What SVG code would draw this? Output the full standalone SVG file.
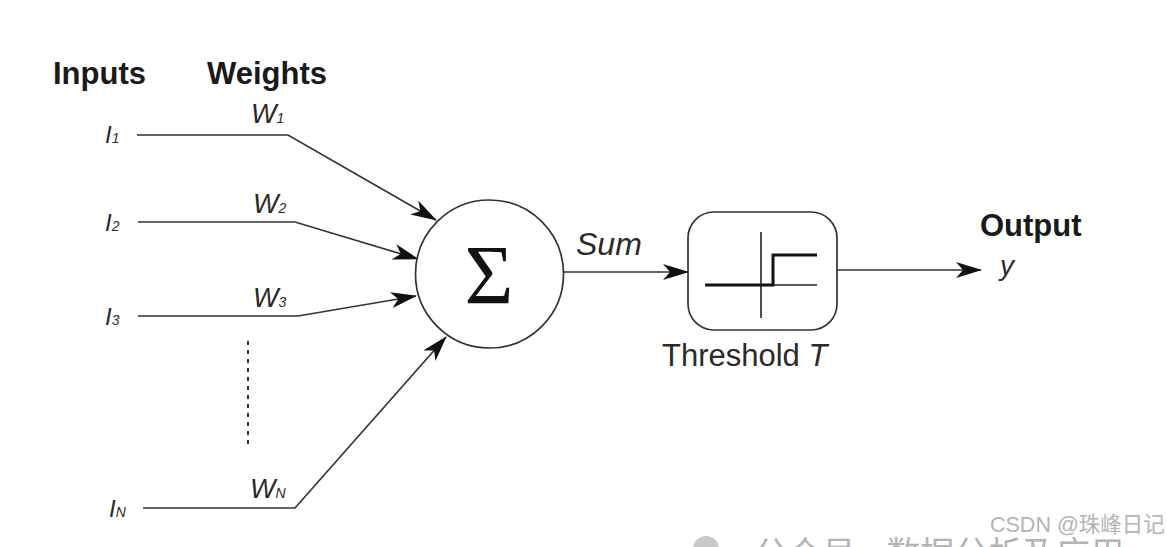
<svg xmlns="http://www.w3.org/2000/svg" width="1167" height="547" viewBox="0 0 1167 547">
<style>
.hd{font-family:"Liberation Sans",Arial,sans-serif;font-weight:bold;font-size:31px;fill:#1a1a1a}
.lab{font-family:"Liberation Sans",Arial,sans-serif;font-style:italic;fill:#2a2a2a}
.in{font-size:24px}
.w{font-size:27px}
.sub{font-size:14px}
.ln{fill:none;stroke:#333;stroke-width:1.7}
.ar{marker-end:url(#ah)}
.wm{font-family:"Liberation Sans","Noto Sans CJK SC",sans-serif;fill:#b4b4b4}
</style>
<defs>
<marker id="ah" viewBox="0 0 26 16" refX="25" refY="8" markerWidth="26" markerHeight="16" markerUnits="userSpaceOnUse" orient="auto">
<path d="M0,0 L26,8 L0,16 L7,8 Z" fill="#111"/>
</marker>
</defs>
<rect width="1167" height="547" fill="#fff"/>

<g id="headers">
<text class="hd" x="53" y="84">Inputs</text>
<text class="hd" x="207" y="84" font-size="31.5">Weights</text>
<text class="hd" x="980" y="236" font-size="30.5">Output</text>
</g>

<g id="input-labels">
<text class="lab in" x="105" y="143">I<tspan class="sub">1</tspan></text>
<text class="lab in" x="105" y="231">I<tspan class="sub">2</tspan></text>
<text class="lab in" x="105" y="325">I<tspan class="sub">3</tspan></text>
<text class="lab in" x="109" y="517">I<tspan class="sub">N</tspan></text>
</g>

<g id="weight-labels">
<text class="lab w" x="251" y="123">W<tspan class="sub">1</tspan></text>
<text class="lab w" x="253" y="213">W<tspan class="sub">2</tspan></text>
<text class="lab w" x="253" y="307">W<tspan class="sub">3</tspan></text>
<text class="lab w" x="250" y="498">W<tspan class="sub">N</tspan></text>
</g>

<g id="connectors">
<polyline class="ln ar" points="137,135 288,135 436,220"/>
<polyline class="ln ar" points="138,222 295,222 418,259"/>
<polyline class="ln ar" points="138,316 298,316 416,296"/>
<polyline class="ln ar" points="143,508 295,508 446,337"/>
<line x1="248" y1="341" x2="248" y2="448" stroke="#333" stroke-width="2" stroke-dasharray="4,5"/>
<line class="ln ar" x1="564" y1="272" x2="688" y2="272"/>
<line class="ln ar" x1="837" y1="270" x2="981" y2="270"/>
</g>

<g id="sum-node">
<circle cx="489.5" cy="274" r="74" fill="#fff" stroke="#333" stroke-width="1.7"/>
<text x="489" y="304" text-anchor="middle" font-family="'Liberation Serif','Times New Roman',serif" font-size="84" fill="#111">Σ</text>
</g>
<text class="lab" x="576" y="255" font-size="32">Sum</text>

<g id="threshold-node">
<rect x="688" y="212" width="149" height="118" rx="26" ry="26" fill="#fff" stroke="#333" stroke-width="1.7"/>
<line x1="761" y1="232" x2="761" y2="318" stroke="#222" stroke-width="1.6"/>
<line x1="773" y1="285" x2="817" y2="285" stroke="#222" stroke-width="1.6"/>
<polyline points="705,285 773,285 773,255 817,255" fill="none" stroke="#111" stroke-width="3"/>
<text x="662" y="366" font-family="'Liberation Sans',Arial,sans-serif" font-size="31" fill="#2a2a2a">Threshold <tspan font-style="italic">T</tspan></text>
</g>

<g id="output-label">
<text class="lab" x="1000" y="275" font-size="28">y</text>
</g>

<g id="watermarks">
<text class="wm" x="990" y="532" font-size="21.5">CSDN @珠峰日记</text>
<circle cx="706" cy="549" r="13" fill="#c8c8c8"/>
<text class="wm" x="754" y="566" font-size="34" fill="#c8c8c8">公众号 · 数据分析及应用</text>
</g>
</svg>
